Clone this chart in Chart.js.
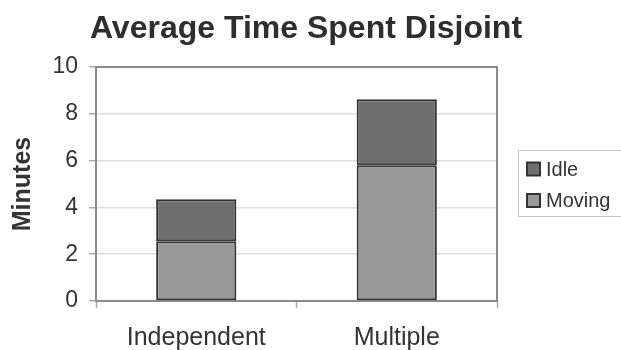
<!DOCTYPE html>
<html>
<head>
<meta charset="utf-8">
<script src="https://cdn.jsdelivr.net/npm/chart.js@4/dist/chart.umd.min.js"></script>
<style>
  html, body { margin: 0; padding: 0; background: #fff; }
  #wrap { width: 621px; height: 350px; }
</style>
</head>
<body>
<div id="wrap"><canvas id="c" width="621" height="350"></canvas></div>
<script>
const categories = ['Independent', 'Multiple'];
const movingMinutes = [2.55, 5.8];
const idleMinutes = [1.8, 2.82];
const yTicks = [0, 2, 4, 6, 8, 10];
const seriesNames = ['Moving', 'Idle'];

const FONT = "'Liberation Sans', Arial, Helvetica, sans-serif";

// Grey frame around the plotting area
const frame = {
  id: 'frame',
  beforeDatasetsDraw(chart) {
    const a = chart.chartArea, ctx = chart.ctx;
    ctx.save();
    ctx.strokeStyle = '#8a8a8a';
    ctx.lineWidth = 2;
    ctx.strokeRect(a.left, a.top, a.right - a.left, a.bottom - a.top);
    ctx.restore();
  }
};

// Boxed legend to the right of the plot, top entry = top of the stack
const boxLegend = {
  id: 'boxLegend',
  afterDraw(chart) {
    const ctx = chart.ctx;
    const x = 518.5, y = 150.5, w = 110, h = 66;
    ctx.save();
    ctx.strokeStyle = '#c8c8c8';
    ctx.lineWidth = 1;
    ctx.strokeRect(x, y, w, h);
    const ds = chart.data.datasets.slice().reverse();
    const rowsY = [169, 200.5];
    ds.forEach((d, i) => {
      const cy = rowsY[i];
      ctx.fillStyle = d.backgroundColor;
      ctx.fillRect(527, cy - 6.5, 13, 13);
      ctx.strokeStyle = '#333';
      ctx.lineWidth = 2;
      ctx.strokeRect(527, cy - 6.5, 13, 13);
      ctx.fillStyle = '#333';
      ctx.font = '20px ' + FONT;
      ctx.textBaseline = 'middle';
      ctx.textAlign = 'left';
      ctx.fillText(d.label, 546, cy + 1);
    });
    ctx.restore();
  }
};

new Chart(document.getElementById('c'), {
  type: 'bar',
  data: {
    labels: categories,
    datasets: [
      {
        label: seriesNames[0],
        data: movingMinutes,
        backgroundColor: '#999999',
        borderColor: '#333333',
        borderWidth: 2,
        borderSkipped: false
      },
      {
        label: seriesNames[1],
        data: idleMinutes,
        backgroundColor: '#6e6e6e',
        borderColor: '#333333',
        borderWidth: 2,
        borderSkipped: false
      }
    ]
  },
  options: {
    responsive: false,
    animation: false,
    layout: { padding: { top: 0, right: 9, bottom: 0, left: 0 } },
    datasets: { bar: { barPercentage: 0.4, categoryPercentage: 1.0 } },
    plugins: {
      legend: { display: false },
      tooltip: { enabled: false },
      title: {
        display: true,
        text: 'Average Time Spent Disjoint',
        color: '#2e2e2e',
        font: { family: FONT, size: 32, weight: 'bold' },
        padding: { top: 10, bottom: 18.6 }
      }
    },
    scales: {
      x: {
        stacked: true,
        afterFit(s) { s.height = 49; },
        grid: {
          display: true,
          offset: true,
          drawOnChartArea: false,
          drawTicks: true,
          tickLength: 7,
          tickColor: '#aaa',
          tickWidth: 1.5
        },
        border: { display: false },
        ticks: {
          color: '#333',
          font: { family: FONT, size: 25 },
          padding: 15,
          maxRotation: 0
        }
      },
      y: {
        stacked: true,
        min: 0,
        max: 10,
        afterFit(s) { s.width = 96; },
        afterBuildTicks(s) { s.ticks = yTicks.map(v => ({ value: v })); },
        grid: {
          color: '#dddddd',
          lineWidth: 1.5,
          drawTicks: true,
          tickLength: 7,
          tickColor: '#aaa',
          tickWidth: 1.5
        },
        border: { display: false },
        ticks: {
          color: '#333',
          font: { family: FONT, size: 23 },
          padding: 11
        },
        title: {
          display: true,
          text: 'Minutes',
          color: '#333',
          font: { family: FONT, size: 25, weight: 'bold' },
          padding: { top: 8, bottom: 0 }
        }
      },
      // empty right-hand strip that holds the legend area
      legendSpace: {
        type: 'linear',
        position: 'right',
        display: true,
        afterFit(s) { s.width = 115; },
        grid: { display: false, drawTicks: false },
        border: { display: false },
        ticks: { display: false }
      }
    }
  },
  plugins: [frame, boxLegend]
});
</script>
</body>
</html>
